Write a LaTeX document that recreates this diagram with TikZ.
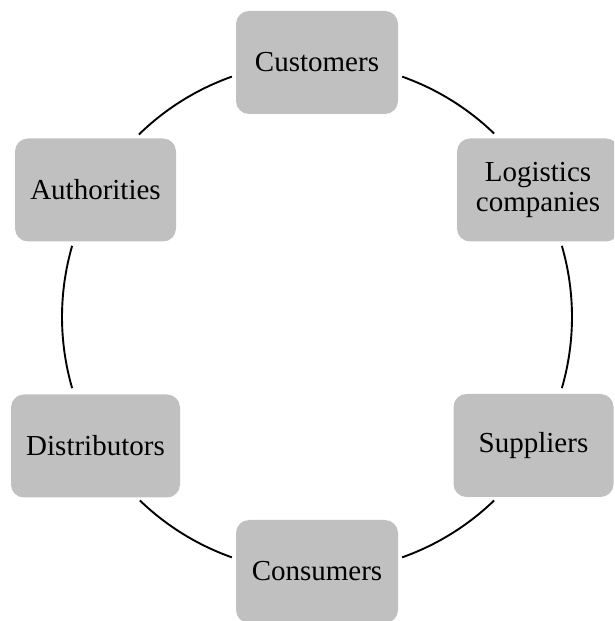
\documentclass[tikz,border=0pt]{standalone}
\usepackage{fontspec}
\setmainfont{Liberation Serif}
\definecolor{boxgray}{RGB}{192,192,192}
\begin{document}
\begin{tikzpicture}[x=1pt,y=1pt,
  party/.style={fill=boxgray, rounded corners=13pt, inner sep=0pt,
    minimum width=162pt, minimum height=103pt, align=center,
    font=\fontsize{29}{29.5}\selectfont},
  ring/.style={line width=1.9pt, black}]
\clip (0,0) rectangle (614,621);
\coordinate (c) at (317,304);
% the six partners around the ring
\node[party] (cust) at (317,558.5) {Customers};
\node[party] (logi) at (538,431) {Logistics\\companies};
\node[party, minimum width=160pt] (supp) at (533.5,175.5) {Suppliers};
\node[party] (cons) at (317,49.5) {Consumers};
\node[party, minimum width=169pt] (dist) at (95.5,175) {Distributors};
\node[party, minimum width=161pt] (auth) at (95.5,431) {Authorities};
% ring segments between neighbouring partners
\draw[ring] (c) ++(70.5:255) arc[start angle=70.5, end angle=46, radius=255];
\draw[ring] (c) ++(16.2:255) arc[start angle=16.2, end angle=-16.2, radius=255];
\draw[ring] (c) ++(-46:255) arc[start angle=-46, end angle=-70.5, radius=255];
\draw[ring] (c) ++(-109.5:255) arc[start angle=-109.5, end angle=-134, radius=255];
\draw[ring] (c) ++(196.2:255) arc[start angle=196.2, end angle=163.8, radius=255];
\draw[ring] (c) ++(134.3:255) arc[start angle=134.3, end angle=109.5, radius=255];
\end{tikzpicture}
\end{document}
